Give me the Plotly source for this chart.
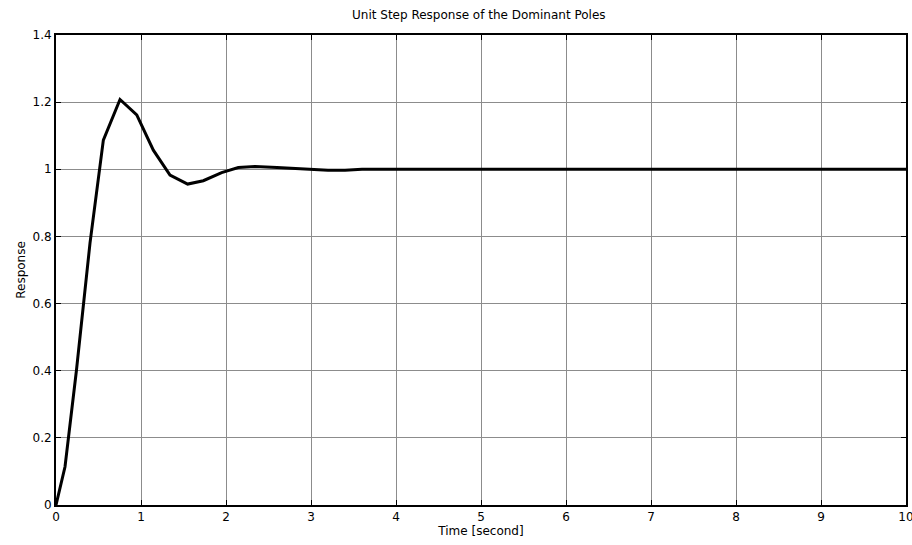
import plotly.graph_objects as go

time_s = [0.0, 0.106, 0.24, 0.40, 0.557, 0.753, 0.95, 1.145, 1.341, 1.549, 1.733,
          1.949, 2.145, 2.341, 2.60, 2.90, 3.20, 3.40, 3.60, 10.0]
response = [0.0, 0.114, 0.40, 0.78, 1.087, 1.208, 1.162, 1.057, 0.983, 0.956, 0.966,
            0.990, 1.005, 1.008, 1.005, 1.001, 0.997, 0.997, 1.0, 1.0]

x_ticks = list(range(0, 11))
y_ticks = [0, 0.2, 0.4, 0.6, 0.8, 1, 1.2, 1.4]
y_tick_labels = ["0", "0.2", "0.4", "0.6", "0.8", "1", "1.2", "1.4"]

font = "DejaVu Sans, Verdana, sans-serif"

fig = go.Figure()
fig.add_trace(go.Scatter(x=time_s, y=response, mode="lines",
                         line=dict(color="black", width=3), showlegend=False))

fig.update_layout(
    width=912, height=545,
    margin=dict(l=56, r=6, t=35, b=40, autoexpand=False),
    paper_bgcolor="white", plot_bgcolor="white",
    title=dict(text="Unit Step Response of the Dominant Poles", x=0.525, xanchor="center",
               y=0.972, yanchor="middle", font=dict(family=font, size=12, color="black")),
    font=dict(family=font, size=12, color="black"),
)
fig.update_xaxes(range=[0, 10], tickvals=x_ticks, ticktext=[str(v) for v in x_ticks],
                 automargin=False, ticklabeloverflow="allow",
                 showline=True, linecolor="black", linewidth=2, mirror="ticks",
                 ticks="inside", ticklen=5, tickcolor="black",
                 showgrid=True, gridcolor="#8c8c8c", gridwidth=1, zeroline=False,
                 title=dict(text="Time [second]", standoff=2, font=dict(family=font, size=12)),
                 tickfont=dict(family=font, size=12))
fig.update_yaxes(range=[0, 1.4], tickvals=y_ticks, ticktext=y_tick_labels,
                 automargin=False, ticklabeloverflow="allow",
                 showline=True, linecolor="black", linewidth=2, mirror="ticks",
                 ticks="inside", ticklen=5, tickcolor="black",
                 showgrid=True, gridcolor="#8c8c8c", gridwidth=1, zeroline=False,
                 title=dict(text="Response", standoff=4, font=dict(family=font, size=12)),
                 tickfont=dict(family=font, size=12))

fig.write_html("out.html")
